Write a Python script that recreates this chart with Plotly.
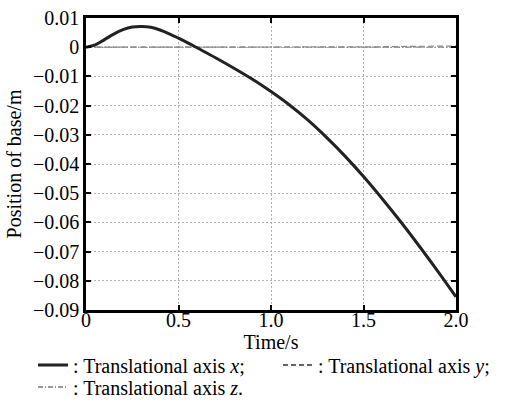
import plotly.graph_objects as go

# Data
t_x = [0, 0.05, 0.1, 0.15, 0.2, 0.25, 0.3, 0.35, 0.4, 0.45, 0.5, 0.55, 0.6,
       0.7, 0.8, 0.9, 1.0, 1.1, 1.2, 1.3, 1.4, 1.5, 1.6, 1.7, 1.8, 1.9, 2.0]
pos_x = [0, 0.0008, 0.0026, 0.0045, 0.0060, 0.0069, 0.0071, 0.0068, 0.0059, 0.0046,
         0.0031, 0.0015, -0.0002, -0.0036, -0.0072, -0.0110, -0.0152, -0.0198,
         -0.0250, -0.0309, -0.0373, -0.0443, -0.0518, -0.0597, -0.0680, -0.0766, -0.0855]

t_y = [0, 0.5, 1.0, 1.2, 1.5, 1.8, 2.0]
pos_y = [0, 0, 0, 0.00005, 0.0001, 0.0003, 0.0004]

t_z = [0, 0.5, 1.0, 1.5, 2.0]
pos_z = [0, 0, 0, 0, 0]

x_tickvals = [0, 0.5, 1.0, 1.5, 2.0]
x_ticktext = ["0", "0.5", "1.0", "1.5", "2.0"]
y_tickvals = [0.01, 0, -0.01, -0.02, -0.03, -0.04, -0.05, -0.06, -0.07, -0.08, -0.09]
y_ticktext = ["0.01", "0", "\u22120.01", "\u22120.02", "\u22120.03", "\u22120.04",
              "\u22120.05", "\u22120.06", "\u22120.07", "\u22120.08", "\u22120.09"]

legend_names = [": Translational axis <i>x</i>;", ": Translational axis <i>y</i>;",
                ": Translational axis <i>z</i>."]

FONT = "Liberation Serif, DejaVu Serif, serif"

fig = go.Figure()
# plotted lines
fig.add_trace(go.Scatter(x=t_z, y=pos_z, mode="lines", showlegend=False,
                         line=dict(color="#8a8a8a", width=1.2, dash="6px,2px,1px,2px")))
fig.add_trace(go.Scatter(x=t_y, y=pos_y, mode="lines", showlegend=False,
                         line=dict(color="#8a8a8a", width=1.2, dash="6px,3px")))
fig.add_trace(go.Scatter(x=t_x, y=pos_x, mode="lines", name=legend_names[0],
                         line=dict(color="#222222", width=3, shape="spline", smoothing=1.0),
                         legend="legend"))
# legend keys (dark, as in the caption of the reference)
fig.add_trace(go.Scatter(x=[None], y=[None], mode="lines", name=legend_names[1],
                         line=dict(color="#333333", width=1.3, dash="5px,3px"),
                         legend="legend3"))
fig.add_trace(go.Scatter(x=[None], y=[None], mode="lines", name=legend_names[2],
                         line=dict(color="#333333", width=1.0, dash="5px,2px,1px,2px"),
                         legend="legend2"))

axis_common = dict(
    showline=True, linecolor="black", linewidth=2.5, mirror="ticks",
    ticks="inside", ticklen=5, tickwidth=2, tickcolor="black",
    showgrid=True, gridcolor="#b0b0b0", gridwidth=1, griddash="2px,2px",
    zeroline=False,
    tickfont=dict(family=FONT, size=20, color="black"),
)

fig.update_xaxes(range=[0, 2.0], tickvals=x_tickvals, ticktext=x_ticktext,
                 ticklabelstandoff=-10,
                 title=dict(text="Time/s", font=dict(family=FONT, size=20, color="black"), standoff=0),
                 **axis_common)
fig.update_yaxes(range=[-0.09, 0.01], tickvals=y_tickvals, ticktext=y_ticktext,
                 title=dict(text="Position of base/m", font=dict(family=FONT, size=20, color="black"), standoff=6),
                 **axis_common)

leg_common = dict(orientation="h", xanchor="left", yanchor="middle",
                  font=dict(family=FONT, size=20, color="black"),
                  bgcolor="rgba(0,0,0,0)", itemwidth=30)
plot_w = 505 - 86 - 49
plot_h = 402 - 18 - 92

fig.update_layout(
    width=505, height=402,
    margin=dict(l=86, r=49, t=18, b=92, autoexpand=False),
    paper_bgcolor="white", plot_bgcolor="white",
    font=dict(family=FONT, size=20, color="black"),
    legend=dict(x=(33 - 86) / plot_w, y=-(365 - 310) / plot_h, **leg_common),
    legend3=dict(x=(278 - 86) / plot_w, y=-(365 - 310) / plot_h, **leg_common),
    legend2=dict(x=(33 - 86) / plot_w, y=-(387 - 310) / plot_h, **leg_common),
    showlegend=True,
)

fig.write_html("out.html")
